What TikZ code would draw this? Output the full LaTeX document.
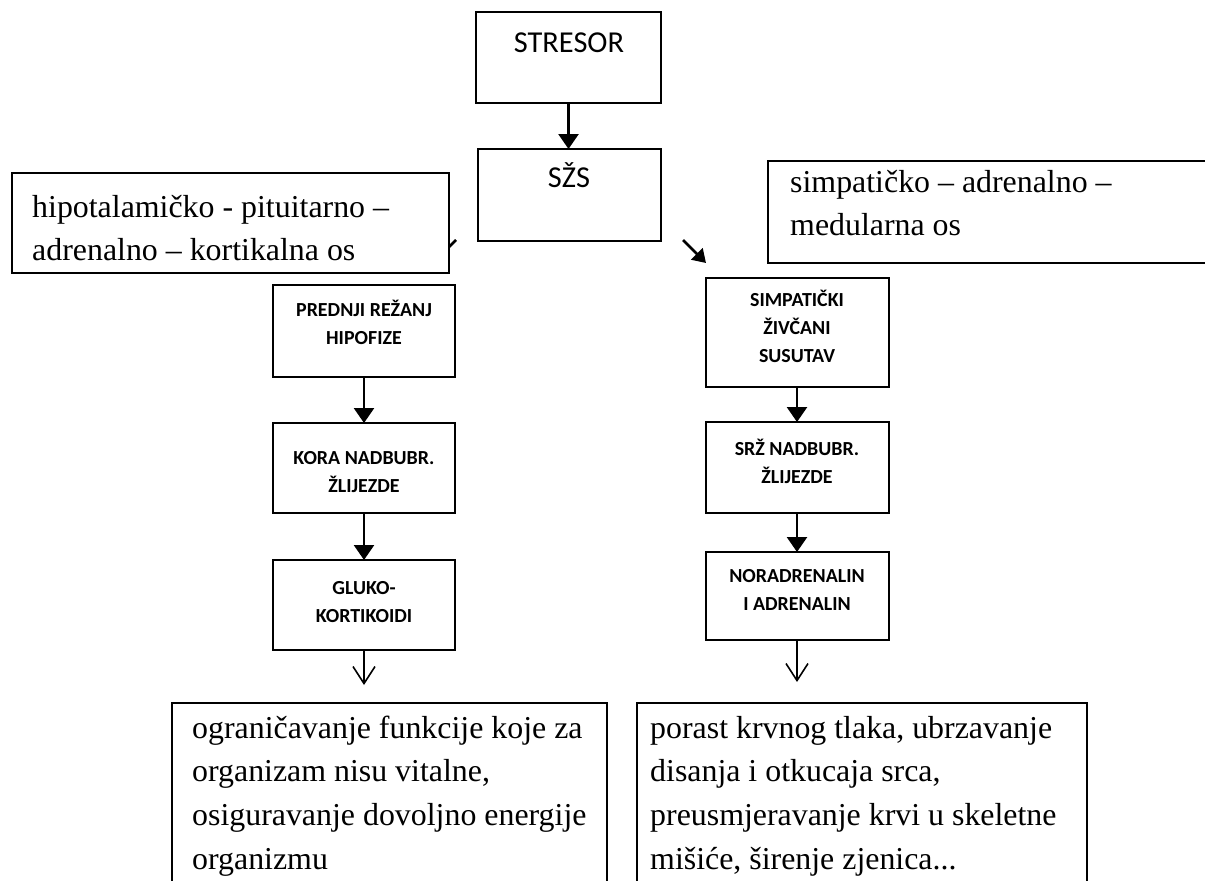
\documentclass[tikz,border=0pt]{standalone}
\usepackage{fontspec}
\setmainfont{Liberation Serif}
\newfontfamily\calfont{Carlito}
\usetikzlibrary{arrows.meta,calc}
\tikzset{
 box/.style={draw=black, line width=2bp, anchor=north west, inner sep=0pt, outer sep=0pt, fill=white},
 arr/.style={line width=2.6bp, -{Triangle[length=15bp,width=20bp]}},
 darr/.style={line width=2.6bp, -{Triangle[length=13bp,width=16bp]}},
 oarr/.style={line width=1.6bp, -{Straight Barb[length=17bp,width=22bp,line width=1.6bp]}},
 hdr/.style={font=\calfont\fontsize{30.5}{36}\selectfont, inner sep=0pt, anchor=base},
 sm/.style={font=\calfont\bfseries\fontsize{20}{28.5}\selectfont, inner sep=0pt, anchor=north, align=center},
 body/.style={font=\fontsize{32}{43.5}\selectfont, inner sep=0pt, anchor=north west, align=left},
 bodyb/.style={font=\fontsize{32}{44}\selectfont, inner sep=0pt, anchor=north west, align=left},
}
\begin{document}
\begin{tikzpicture}[x=1bp,y=-1bp]
\useasboundingbox (0,0) rectangle (1205,881);
\clip (0,0) rectangle (1205,881);
% top boxes
\node[box, minimum width=185bp, minimum height=91bp] (stresor) at (476,12) {};
\node[box, minimum width=183bp, minimum height=92bp] (szs) at (478,149) {};
% hidden diagonal arrow on the left (only a tick visible)
\coordinate (dL1) at (456,240);
\coordinate (dL2) at (433,263);
\draw[darr] (dL1) -- (dL2);
% label boxes
\node[box, minimum width=437bp, minimum height=100bp] (lhpa) at (12,173) {};
\node[box, minimum width=470bp, minimum height=102bp] (lsam) at (768,161) {};
% left column
\node[box, minimum width=182bp, minimum height=92bp] (p1) at (273,285) {};
\node[box, minimum width=182bp, minimum height=90bp] (p2) at (273,423) {};
\node[box, minimum width=182bp, minimum height=90bp] (p3) at (273,560) {};
% right column
\node[box, minimum width=183bp, minimum height=109bp] (s1) at (706,278) {};
\node[box, minimum width=183bp, minimum height=91bp] (s2) at (706,422) {};
\node[box, minimum width=183bp, minimum height=88bp] (s3) at (706,552) {};
% bottom boxes
\node[box, minimum width=435bp, minimum height=260bp] (b1) at (172,703) {};
\node[box, minimum width=450bp, minimum height=260bp] (b2) at (637,703) {};
% texts
\node[hdr] (tstresor) at (569,52) {STRESOR};
\node[hdr] (tszs) at (569,187) {SŽS};
\node[body] (thpa) at (32,186.5) {\strut hipotalamičko - pituitarno –\\adrenalno – kortikalna os};
\node[body] (tsam) at (790,161.5) {\strut simpatičko – adrenalno –\\medularna os};
\node[sm] (tp1) at (364,296) {\strut PREDNJI REŽANJ\\HIPOFIZE};
\node[sm] (tp2) at (364,444) {\strut KORA NADBUBR.\\ŽLIJEZDE};
\node[sm] (tp3) at (364,574) {\strut GLUKO-\\KORTIKOIDI};
\node[sm] (ts1) at (797,286) {\strut SIMPATIČKI\\ŽIVČANI\\SUSUTAV};
\node[sm] (ts2) at (797,435) {\strut SRŽ NADBUBR.\\ŽLIJEZDE};
\node[sm] (ts3) at (797,562) {\strut NORADRENALIN\\I ADRENALIN};
\node[bodyb] (tb1) at (192,707.2) {\strut ograničavanje funkcije koje za\\organizam nisu vitalne,\\osiguravanje dovoljno energije\\organizmu};
\node[bodyb] (tb2) at (650,707.2) {\strut porast krvnog tlaka, ubrzavanje\\disanja i otkucaja srca,\\preusmjeravanje krvi u skeletne\\mišiće, širenje zjenica...};
% connectors
\coordinate (xL) at (364,0);
\coordinate (xR) at (797,0);
\draw[arr] (stresor.south) -- (stresor.south |- szs.north);
\coordinate (dR1) at (683,240);
\coordinate (dR2) at (706,263);
\draw[darr] (dR1) -- (dR2);
\draw[arr] (p1.south -| xL) -- (p2.north -| xL);
\draw[arr] (p2.south -| xL) -- (p3.north -| xL);
\draw[arr] (s1.south -| xR) -- (s2.north -| xR);
\draw[arr] (s2.south -| xR) -- (s3.north -| xR);
\coordinate (eL) at (364,685);
\coordinate (eR) at (797,682);
\draw[oarr] (p3.south -| xL) -- (eL);
\draw[oarr] (s3.south -| xR) -- (eR);
\end{tikzpicture}
\end{document}
